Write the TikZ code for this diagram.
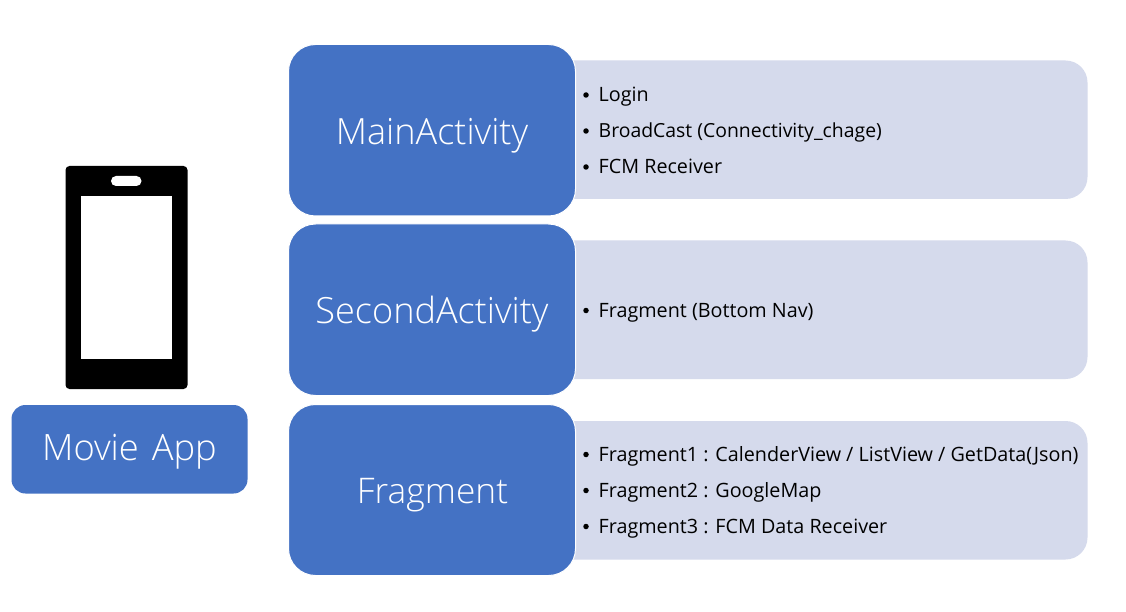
\documentclass[tikz,border=0pt]{standalone}
\usepackage{fontspec}
\setmainfont{Open Sans}
\newfontfamily\lightf{Open Sans Light}
\usetikzlibrary{positioning}
\definecolor{blueb}{HTML}{4472C4}
\definecolor{paleb}{HTML}{D5DAEC}
\tikzset{
  x=1pt,y=-1pt,
  bigbox/.style={fill=blueb,draw=white,line width=1pt,rounded corners=27pt},
  palebox/.style={fill=paleb,rounded corners=22pt},
  head/.style={text=white,font=\lightf\fontsize{36.1}{40}\selectfont,inner sep=0pt},
  item/.style={text=black,font=\fontsize{19.75}{24}\selectfont,anchor=base west,inner sep=0pt},
  dotmark/.style={circle,fill=black,minimum size=5.5pt,inner sep=0pt},
}
\begin{document}
\begin{tikzpicture}
\useasboundingbox (0,0) rectangle (1126,612);
\fill[white] (0,0) rectangle (1126,612);
% phone
\fill[black,rounded corners=4pt] (65.5,166) rectangle (187.5,389);
\fill[white] (80.5,196.5) rectangle (172,358.5);
\fill[white,rounded corners=5pt] (111,176) rectangle (141.5,186);
% movie app
\fill[blueb,rounded corners=14pt] (11.5,405) rectangle (247.5,493.5);
\node[head,font=\lightf\fontsize{36.3}{40}\selectfont,anchor=base] (app) at (129.5,460) {Movie\hspace{3.5pt} App};
% pale boxes
\fill[palebox] (540,60.5) rectangle (1087.5,199);
\fill[palebox] (540,240.5) rectangle (1087.5,379);
\fill[palebox] (540,421) rectangle (1087.5,559.5);
% blue boxes
\draw[bigbox] (288.5,44.5) rectangle (575.5,216);
\draw[bigbox] (288.5,224) rectangle (575.5,395.5);
\draw[bigbox] (288.5,404.5) rectangle (575.5,575.5);
\node[head,anchor=base] (main) at (432,144.5) {MainActivity};
\node[head,anchor=base] (second) at (432,323.5) {SecondActivity};
\node[head,anchor=base,font=\lightf\fontsize{35.3}{40}\selectfont] (frag) at (432.5,503.5) {Fragment};
% items
\foreach \n/\yy/\t in {a/101.5/Login,b/137.5/{\fontsize{19.4}{24}\selectfont BroadCast (Connectivity\_chage)},c/173.5/FCM Receiver,d/317/{Fragment (Bottom Nav)},e/461/{Fragment1 : CalenderView / ListView / GetData(Json)},f/497/{Fragment2 : GoogleMap},g/533/{Fragment3 : FCM Data Receiver}}{
  \node[item] (\n) at (598.5,\yy) {\t};
  \node[dotmark] (dot\n) at (586,\yy-6.5) {};
}
\end{tikzpicture}
\end{document}
